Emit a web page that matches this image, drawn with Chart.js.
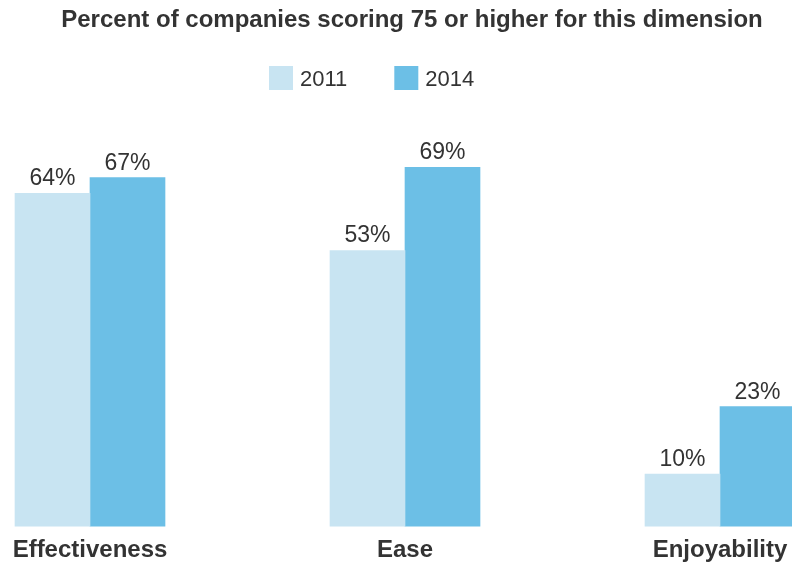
<!DOCTYPE html>
<html>
<head>
<meta charset="utf-8">
<script src="https://cdn.jsdelivr.net/npm/chart.js@4"></script>
<style>
  body { margin: 0; background: #fff; }
  #wrap { width: 792px; height: 565px; }
</style>
</head>
<body>
<div id="wrap"><canvas id="surveyChart" width="792" height="565"></canvas></div>
<script>
const categories = ['Effectiveness', 'Ease', 'Enjoyability'];
const years = ['2011', '2014'];
const values2011 = [64, 53, 10];
const values2014 = [67, 69, 23];
const colors = ['#c8e4f2', '#6cbfe6'];
const titleText = 'Percent of companies scoring 75 or higher for this dimension';

const FONT = "'Liberation Sans', Arial, Helvetica, sans-serif";
const TEXT = '#333333';

// percent labels above each bar
const valueLabels = {
    id: 'valueLabels',
    afterDatasetsDraw(chart) {
        const ctx = chart.ctx;
        ctx.save();
        ctx.font = '23px ' + FONT;
        ctx.fillStyle = TEXT;
        ctx.textAlign = 'center';
        ctx.textBaseline = 'alphabetic';
        chart.data.datasets.forEach((ds, i) => {
            chart.getDatasetMeta(i).data.forEach((bar, j) => {
                ctx.fillText(ds.data[j] + '%', bar.x, bar.y - 8);
            });
        });
        ctx.restore();
    }
};

// title + legend drawn by hand, the built in ones squeeze the title
// into the padded area and centre the legend under it
const header = {
    id: 'header',
    afterDraw(chart) {
        const ctx = chart.ctx;
        ctx.save();
        ctx.fillStyle = TEXT;
        ctx.textBaseline = 'alphabetic';
        ctx.textAlign = 'center';
        ctx.font = 'bold 24px ' + FONT;
        ctx.fillText(titleText, 412, 27);

        ctx.textAlign = 'left';
        ctx.font = '22px ' + FONT;
        let x = 269;
        chart.data.datasets.forEach((ds) => {
            ctx.fillStyle = ds.backgroundColor;
            ctx.fillRect(x, 66, 24, 24);
            ctx.fillStyle = TEXT;
            ctx.fillText(ds.label, x + 31, 86);
            x += 31 + ctx.measureText(ds.label).width + 47;
        });
        ctx.restore();
    }
};

let ctx = document.getElementById('surveyChart').getContext('2d');

let surveyChart = new Chart(ctx, {
    type: 'bar',
    data: {
        labels: categories,
        datasets: [{
            label: years[0],
            data: values2011,
            backgroundColor: colors[0],
            barThickness: 75,
            clip: false
        }, {
            label: years[1],
            data: values2014,
            backgroundColor: colors[1],
            barThickness: 75,
            clip: false
        }]
    },
    options: {
        responsive: false,
        animation: false,
        layout: {
            padding: { left: 90, right: 72, top: 110, bottom: -10 }
        },
        plugins: {
            title: { display: false },
            legend: { display: false },
            tooltip: { enabled: false }
        },
        scales: {
            x: {
                offset: false,
                grid: { display: false, drawTicks: false },
                border: { display: false },
                ticks: {
                    padding: 10,
                    color: TEXT,
                    font: { family: FONT, size: 24, weight: 'bold' }
                },
                // layout padding already leaves room for the edge labels
                afterFit(scale) {
                    scale.paddingLeft = 0;
                    scale.paddingRight = 0;
                }
            },
            y: {
                display: false,
                min: 0,
                max: 80
            }
        }
    },
    plugins: [valueLabels, header]
});
</script>
</body>
</html>
